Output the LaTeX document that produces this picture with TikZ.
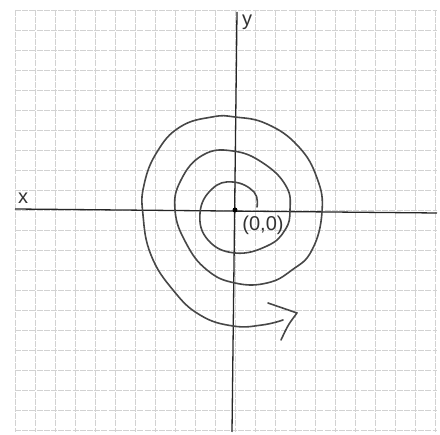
\documentclass[tikz,border=0pt]{standalone}
\usepackage{fontspec}
\setmainfont{Liberation Sans}
\begin{document}
\begin{tikzpicture}[x=1pt,y=-1pt,
  gridline/.style={draw=gray!35,line width=0.6pt,dash pattern=on 6pt off 1.2pt},
  axisline/.style={draw=black!85,line width=1.3pt},
  spiralline/.style={draw=black!72,line width=1.6pt,line cap=round,line join=round},
  lbl/.style={font=\fontsize{20}{24}\selectfont,text=black!80,inner sep=0pt}]
\useasboundingbox[fill=white] (0,0) rectangle (440,435);
% grid
\foreach \gx in {15,35,...,435} \draw[gridline] (\gx,10) -- (\gx,432);
\foreach \gy in {10,30,...,430} \draw[gridline] (15,\gy) -- (437,\gy);
% axes
\coordinate (xl) at (15,209);
\coordinate (xr) at (437,213);
\coordinate (yt) at (237,12);
\coordinate (yb) at (232,432);
\draw[axisline] (xl) -- (xr);
\draw[axisline] (yt) -- (yb);
% origin
\node[circle,fill=black,inner sep=0pt,minimum size=5pt] (o) at (235,210) {};
\node[lbl] (olab) at (263,225) {(0,0)};
\node[lbl] (xlab) at (23,198) {x};
\node[lbl] (ylab) at (247,22) {y};
% spiral
\draw[spiralline] plot[smooth,tension=0.75] coordinates {
 (257,207) (254,192) (233,182) (212,189) (200,213) (208,240) (235,253)
 (267,246) (285,230) (290,210) (286,186) (263,163) (233,151) (203,155)
 (181,180) (175,210) (186,243) (207,270) (235,283) (267,283) (292,270)
 (312,250) (322,212) (317,178) (298,146) (267,124) (235,117) (212,117)
 (180,127) (157,152) (144,185) (143,215) (151,255) (173,290) (200,315) (233,326)
 (262,325) (283,320)};
% arrowhead
\coordinate (a1) at (268,303);
\coordinate (a2) at (297,313);
\coordinate (a3) at (281,340);
\draw[spiralline] (a1) .. controls (283,308) .. (a2) .. controls (288,325) .. (a3);
\end{tikzpicture}
\end{document}
